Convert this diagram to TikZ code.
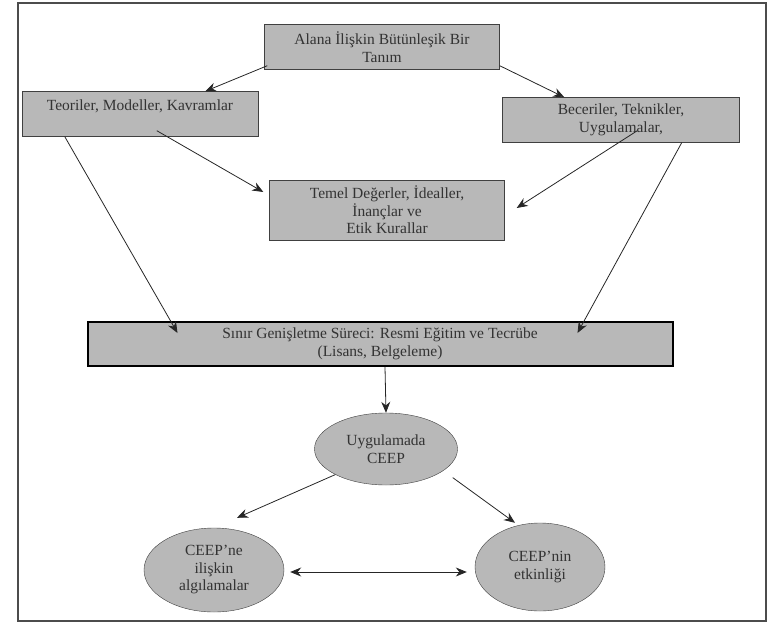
\documentclass[tikz,border=0pt]{standalone}
\usepackage{fontspec}
\setmainfont{Liberation Serif}
\usetikzlibrary{shapes,arrows,arrows.meta,positioning,calc}
\tikzset{
  kutu/.style={draw=black!75, fill=black!28, text=black!80, minimum width=235pt,
    minimum height=45pt, align=center, inner sep=1pt,
    font=\fontsize{15.5}{17.5}\selectfont},
  genis/.style={kutu, draw=black, line width=2pt, minimum width=585pt, minimum height=44pt},
  elips/.style={draw=black!75, fill=black!28, text=black!80, ellipse, inner sep=0pt,
    align=center, font=\fontsize{15.5}{17.5}\selectfont},
  ok/.style={line width=0.8pt, draw=black!85, -{Stealth[length=11pt,width=9pt]}},
  ciftok/.style={line width=0.8pt, draw=black!85, {Stealth[length=11pt,width=9pt]}-{Stealth[length=11pt,width=9pt]}},
}

\begin{document}
\begin{tikzpicture}[x=1pt,y=-1pt]
  \useasboundingbox (0,0) rectangle (769,624);
  \draw[black!70, line width=1.2pt] (18,3) rectangle (766,621);

  % ust kutular
  \node[kutu] (tanim) at (382,47) {Alana İlişkin Bütünleşik Bir\\Tanım};
  \node[kutu, minimum width=236pt] (teori) at (140,114) {Teoriler, Modeller, Kavramlar\\\mbox{}};
  \node[kutu, minimum width=237pt] (beceri) at (621,120) {Beceriler, Teknikler,\\Uygulamalar,};
  \node[kutu, minimum height=60pt] (temel) at (387,210) {Temel Değerler, İdealler,\\İnançlar ve\\Etik Kurallar};
  \node[genis] (sinir) at (380,344) {Sınır Genişletme Süreci: Resmi Eğitim ve Tecrübe\\(Lisans, Belgeleme)};

  % elipsler
  \node[elips, minimum width=143pt, minimum height=72pt] (uygul) at (386,449) {Uygulamada\\CEEP};
  \node[elips, minimum width=140pt, minimum height=84pt] (algi) at (214,570) {CEEP'ne\\ilişkin\\algılamalar};
  \node[elips, minimum width=130pt, minimum height=88pt] (etkin) at (540,567) {CEEP'nin\\etkinliği};

  \draw[ok] ($(tanim.south west)+(3,-4)$) -- ($(teori.north east)+(-53,0)$);
  \draw[ok] ($(tanim.south east)+(0,-4)$) -- ($(beceri.north west)+(62,0)$);
  \draw[ok] ($(teori.south west)+(135,-6)$) -- ($(temel.west)+(-6,-18)$);
  \draw[ok] ($(beceri.south west)+(135,-12)$) -- ($(temel.east)+(12,-2)$);
  \draw[ok] ($(teori.south west)+(43,0)$) -- ($(sinir.north west)+(91,12)$);
  \draw[ok] ($(beceri.south east)+(-58,0)$) -- ($(sinir.north west)+(491,12)$);
  \draw[ok] ($(sinir.south)+(5,0)$) -- (uygul.north);
  \draw[ok] (uygul.south west) -- ($(algi.north)+(23,-10)$);
  \draw[ok] ($(uygul.south east)+(16,3)$) -- ($(etkin.north)+(-25,0)$);
  \draw[ciftok] ($(algi.east)+(6,2)$) -- ($(etkin.west)+(-8,5)$);
\end{tikzpicture}
\end{document}
